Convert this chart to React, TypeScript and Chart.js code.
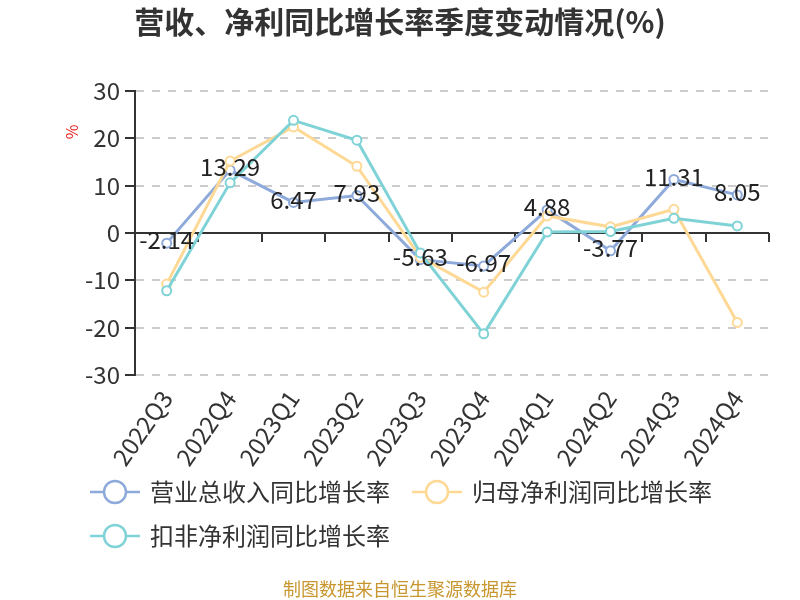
import React, { useEffect, useRef } from "react";
import { Chart, registerables } from "chart.js";

Chart.register(...registerables);

const categories = ["2022Q3", "2022Q4", "2023Q1", "2023Q2", "2023Q3", "2023Q4", "2024Q1", "2024Q2", "2024Q3", "2024Q4"];
const revenueGrowth = [-2.14, 13.29, 6.47, 7.93, -5.63, -6.97, 4.88, -3.77, 11.31, 8.05];
const netProfitGrowth = [-10.8, 15.2, 22.4, 14.1, -5.1, -12.5, 3.6, 1.3, 5.0, -18.9];
const deductedProfitGrowth = [-12.2, 10.6, 23.8, 19.6, -4.2, -21.3, 0.2, 0.3, 3.1, 1.5];
const seriesNames = ["营业总收入同比增长率", "归母净利润同比增长率", "扣非净利润同比增长率"];
const seriesColors = ["#8eaadb", "#fdd995", "#7fd3d7"];
const yMin = -30;
const yMax = 30;
const yStep = 10;
const titleText = "营收、净利同比增长率季度变动情况(%)";
const yUnitText = "%";
const sourceText = "制图数据来自恒生聚源数据库";

const FONT = "'Noto Sans CJK SC', 'Noto Sans', sans-serif";

const extrasPlugin = {
  id: "extras",
  beforeDatasetsDraw(chart: any) {
    const { ctx, chartArea, scales } = chart;
    const y0 = scales.y.getPixelForValue(0);
    ctx.save();
    ctx.strokeStyle = "#333";
    ctx.lineWidth = 2;
    ctx.beginPath();
    ctx.moveTo(chartArea.left, y0);
    ctx.lineTo(chartArea.right, y0);
    const n = categories.length;
    const w = (chartArea.right - chartArea.left) / n;
    for (let i = 1; i <= n; i++) {
      const x = Math.round(chartArea.left + i * w);
      ctx.moveTo(x, y0);
      ctx.lineTo(x, y0 + 9);
    }
    ctx.stroke();
    ctx.restore();
  },
  afterDatasetsDraw(chart: any) {
    const { ctx } = chart;
    const idx = chart.data.datasets.findIndex((d: any) => d.label === seriesNames[0]);
    const meta = chart.getDatasetMeta(idx);
    ctx.save();
    ctx.fillStyle = "#222";
    ctx.font = `24px ${FONT}`;
    ctx.textAlign = "center";
    ctx.textBaseline = "middle";
    meta.data.forEach((pt: any, i: number) => {
      ctx.fillText(String(revenueGrowth[i]), pt.x, pt.y - 3);
    });
    ctx.restore();
  },
  afterDraw(chart: any) {
    const { ctx } = chart;
    ctx.save();
    // title
    ctx.fillStyle = "#333";
    ctx.font = `bold 30px ${FONT}`;
    ctx.textAlign = "center";
    ctx.textBaseline = "middle";
    ctx.fillText(titleText, 400, 22);
    // y unit
    ctx.save();
    ctx.translate(72, 132);
    ctx.rotate(-Math.PI / 2);
    ctx.fillStyle = "#ee2222";
    ctx.font = `16px ${FONT}`;
    ctx.fillText(yUnitText, 0, 0);
    ctx.restore();
    // legend
    const items = [
      { x: 90, y: 492 },
      { x: 412, y: 492 },
      { x: 90, y: 536 },
    ];
    items.forEach((it, i) => {
      ctx.strokeStyle = seriesColors[i];
      ctx.lineWidth = 2.5;
      ctx.beginPath();
      ctx.moveTo(it.x, it.y);
      ctx.lineTo(it.x + 14, it.y);
      ctx.moveTo(it.x + 36, it.y);
      ctx.lineTo(it.x + 50, it.y);
      ctx.stroke();
      ctx.fillStyle = "#fff";
      ctx.beginPath();
      ctx.arc(it.x + 25, it.y, 11, 0, Math.PI * 2);
      ctx.fill();
      ctx.stroke();
      ctx.fillStyle = "#333";
      ctx.font = `24px ${FONT}`;
      ctx.textAlign = "left";
      ctx.textBaseline = "middle";
      ctx.fillText(seriesNames[i], it.x + 60, it.y);
    });
    // source
    ctx.fillStyle = "#c8962e";
    ctx.font = `18px ${FONT}`;
    ctx.textAlign = "center";
    ctx.textBaseline = "middle";
    ctx.fillText(sourceText, 400, 589);
    ctx.restore();
  },
};

export default function App() {
  const ref = useRef<HTMLCanvasElement | null>(null);
  useEffect(() => {
    if (!ref.current) return;
    const mk = (label: string, data: number[], color: string, order: number) => ({
      label,
      data,
      borderColor: color,
      backgroundColor: "#fff",
      borderWidth: 3,
      pointRadius: 4.5,
      pointBorderWidth: 2,
      pointBackgroundColor: "#fff",
      pointBorderColor: color,
      tension: 0,
      order,
    });
    const chart = new Chart(ref.current, {
      type: "line",
      data: {
        labels: categories,
        datasets: [
          mk(seriesNames[0], revenueGrowth, seriesColors[0], 2),
          mk(seriesNames[1], netProfitGrowth, seriesColors[1], 1),
          mk(seriesNames[2], deductedProfitGrowth, seriesColors[2], 0),
        ],
      },
      options: {
        responsive: false,
        animation: false,
        layout: { padding: { top: 91, right: 31, bottom: 0, left: 0 } },
        plugins: {
          legend: { display: false },
          title: { display: false },
          tooltip: { enabled: false },
        },
        scales: {
          x: {
            offset: true,
            grid: { display: false, drawTicks: false },
            border: { display: false },
            ticks: {
              color: "#333",
              font: { family: FONT, size: 24 },
              minRotation: 55,
              maxRotation: 55,
              padding: 10,
              autoSkip: false,
            },
            afterFit(scale: any) {
              scale.height = 225;
            },
          },
          y: {
            min: yMin,
            max: yMax,
            grid: {
              color: "#cccccc",
              lineWidth: 2,
              tickLength: 10,
              tickColor: "#333",
              tickWidth: 2,
            },
            border: { display: true, color: "#333", width: 2, dash: [8, 8] },
            ticks: {
              stepSize: yStep,
              color: "#333",
              font: { family: FONT, size: 24 },
              padding: 5,
            },
            afterFit(scale: any) {
              scale.width = 135;
            },
          },
        },
      },
      plugins: [extrasPlugin],
    });
    return () => chart.destroy();
  }, []);
  return (
    <div style={{ position: "absolute", left: 0, top: 0, width: 800, height: 600, background: "#fff" }}>
      <canvas ref={ref} width={800} height={600} />
    </div>
  );
}
